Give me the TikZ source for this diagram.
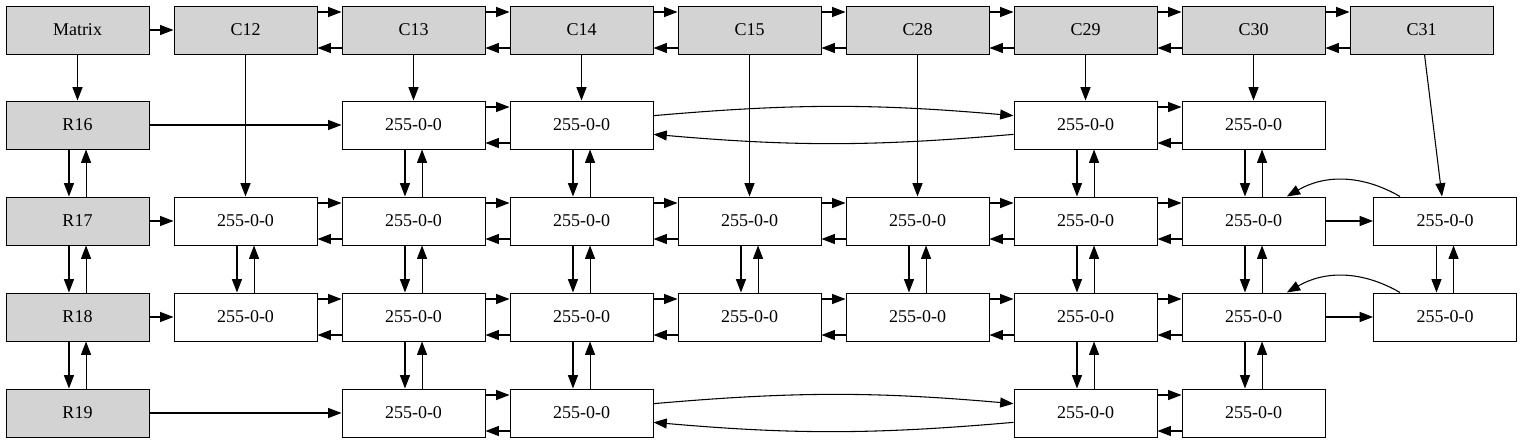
\documentclass[tikz,border=0pt]{standalone}
\usepackage{fontspec}
\setmainfont{Liberation Serif}
\usetikzlibrary{arrows.meta}
\definecolor{hdrgray}{HTML}{D3D3D3}

\tikzset{
  hdr/.style={draw, fill=hdrgray, line width=0.75pt, minimum width=107.25pt,
    minimum height=36pt, inner sep=0pt, font=\fontsize{13.5}{15}\selectfont},
  cell/.style={hdr, fill=white},
  lnk/.style={-{Triangle[length=10pt, width=7.5pt]}, line width=0.8pt}
}

\begin{document}
\begin{tikzpicture}[x=0.75pt, y=-0.75pt]

\useasboundingbox (0,0) rectangle (1523,443);

% =========== HEADERS ===========
\node[hdr] (mat) at (77.5,30) {Matrix};
\foreach \c/\i in {12/1, 13/2, 14/3, 15/4, 28/5, 29/6, 30/7, 31/8}
  \node[hdr] (c\c) at (77.5+168*\i,30) {C\c};
\foreach \r/\y in {16/125, 17/221, 18/317, 19/413}
  \node[hdr] (r\r) at (77.5,\y) {R\r};

% =========== CELLS ===========
\foreach \r/\c in {16/13, 16/14, 16/29, 16/30,
                   17/12, 17/13, 17/14, 17/15, 17/28, 17/29, 17/30,
                   18/12, 18/13, 18/14, 18/15, 18/28, 18/29, 18/30,
                   19/13, 19/14, 19/29, 19/30}
  \node[cell] (n\r c\c) at (c\c |- r\r) {255-0-0};
\node[cell] (n17c31) at (1445,221) {255-0-0};
\node[cell] (n18c31) at (1445,317) {255-0-0};

% =========== SINGLE LINKS ===========
\draw[lnk] (mat) -- (c12);
\draw[lnk] (mat) -- (r16);
\foreach \a/\b in {c12/n17c12, c13/n16c13, c14/n16c14, c15/n17c15, c28/n17c28,
                   c29/n16c29, c30/n16c30, c31/n17c31,
                   r16/n16c13, r17/n17c12, r18/n18c12, r19/n19c13,
                   n17c30/n17c31, n18c30/n18c31}
  \draw[lnk] (\a) -- (\b);

% =========== LEFT/RIGHT PAIRS ===========
\foreach \a/\b in {c12/c13, c13/c14, c14/c15, c15/c28, c28/c29, c29/c30, c30/c31,
                   n16c13/n16c14, n16c29/n16c30,
                   n17c12/n17c13, n17c13/n17c14, n17c14/n17c15, n17c15/n17c28,
                   n17c28/n17c29, n17c29/n17c30,
                   n18c12/n18c13, n18c13/n18c14, n18c14/n18c15, n18c15/n18c28,
                   n18c28/n18c29, n18c29/n18c30,
                   n19c13/n19c14, n19c29/n19c30} {
  \draw[lnk] ([yshift=13.5pt]\a.east) -- ([yshift=13.5pt]\b.west);
  \draw[lnk] ([yshift=-13.5pt]\b.west) -- ([yshift=-13.5pt]\a.east);
}

% =========== UP/DOWN PAIRS ===========
\foreach \a/\b in {r16/r17, r17/r18, r18/r19,
                   n17c12/n18c12,
                   n16c13/n17c13, n17c13/n18c13, n18c13/n19c13,
                   n16c14/n17c14, n17c14/n18c14, n18c14/n19c14,
                   n17c15/n18c15, n17c28/n18c28,
                   n16c29/n17c29, n17c29/n18c29, n18c29/n19c29,
                   n16c30/n17c30, n17c30/n18c30, n18c30/n19c30,
                   n17c31/n18c31} {
  \draw[lnk] ([xshift=-6.4pt]\a.south) -- ([xshift=-6.4pt]\b.north);
  \draw[lnk] ([xshift=6.4pt]\b.north) -- ([xshift=6.4pt]\a.south);
}

% =========== LONG JUMPS ===========
\foreach \r in {16,19} {
  \draw[lnk] ([yshift=7pt]n\r c14.east) to[bend left=5] ([yshift=7pt]n\r c29.west);
  \draw[lnk] ([yshift=-7pt]n\r c29.west) to[bend left=5] ([yshift=-7pt]n\r c14.east);
}
\foreach \r in {17,18}
  \draw[lnk] ([xshift=-33.75pt]n\r c31.north) to[bend right=30] ([xshift=25pt]n\r c30.north);

\end{tikzpicture}
\end{document}
